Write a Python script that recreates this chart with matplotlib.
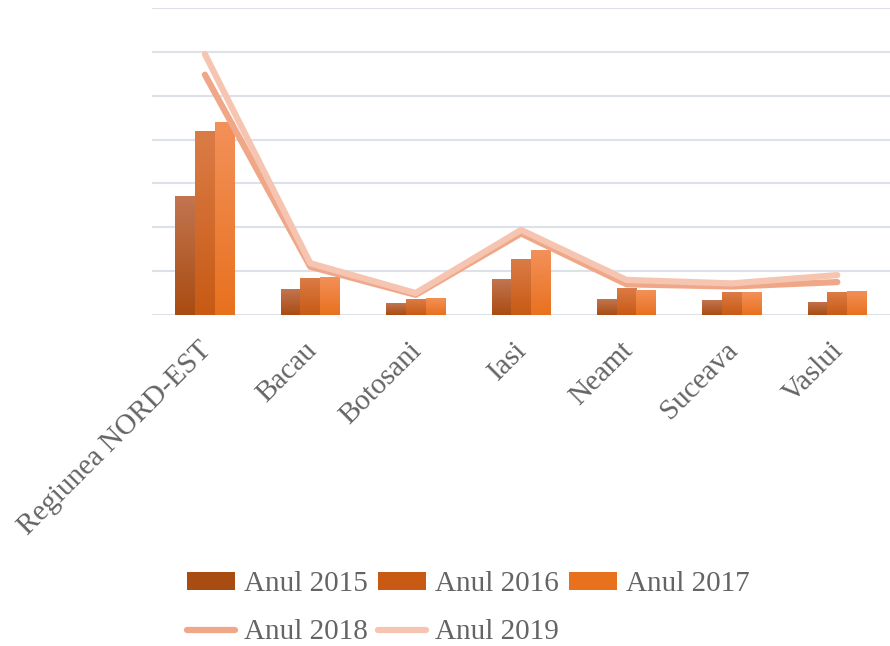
import matplotlib.pyplot as plt
import matplotlib.transforms as mtransforms
import numpy as np
from matplotlib.colors import LinearSegmentedColormap
from matplotlib.lines import Line2D
from matplotlib.patches import Patch

plt.rcParams['font.family'] = ['Liberation Serif', 'DejaVu Serif']

judete = ["Regiunea NORD-EST", "Bacau", "Botosani", "Iasi", "Neamt", "Suceava", "Vaslui"]
anul_2015 = [2.72, 0.59, 0.27, 0.82, 0.36, 0.34, 0.30]
anul_2016 = [4.20, 0.85, 0.36, 1.28, 0.62, 0.52, 0.52]
anul_2017 = [4.41, 0.87, 0.39, 1.48, 0.57, 0.52, 0.55]
anul_2018 = [5.48, 1.10, 0.46, 1.86, 0.70, 0.65, 0.75]
anul_2019 = [5.95, 1.18, 0.50, 1.94, 0.80, 0.72, 0.91]

# (top colour, bottom colour) for the gradient bars
bar_cols = [("#C27550", "#A94C12"), ("#DB7C47", "#C85A14"), ("#F3915A", "#E8711E")]
line_cols = ["#F0A788", "#F5C5B2"]
text_col = "#646464"

fig = plt.figure(figsize=(8.9, 6.46), dpi=100)
ax = fig.add_axes([0.171, 0.5124, 0.829, 0.4752])

x = np.arange(len(judete))
w = 0.187
grad = np.linspace(1, 0, 100).reshape(-1, 1)
for i, (vals, (ctop, cbot)) in enumerate(zip([anul_2015, anul_2016, anul_2017], bar_cols)):
    bars = ax.bar(x + (i - 1) * w, vals, w, color=cbot, zorder=2)
    cmap = LinearSegmentedColormap.from_list("g%d" % i, [cbot, ctop])
    for b in bars:
        bx, by = b.get_x(), b.get_y()
        im = ax.imshow(grad, cmap=cmap, aspect="auto", zorder=2.1,
                       extent=[bx, bx + b.get_width(), by, by + b.get_height()])
        im.set_clip_path(b)

ax.plot(x, anul_2018, color=line_cols[0], lw=4.5, solid_capstyle="round",
        solid_joinstyle="round", zorder=3)
ax.plot(x, anul_2019, color=line_cols[1], lw=4.5, solid_capstyle="round",
        solid_joinstyle="round", zorder=4)

ax.set_xlim(-0.5, len(judete) - 0.5)
ax.set_ylim(0, 7)
ax.set_yticks(np.arange(0, 8))
ax.set_yticklabels([])
ax.tick_params(axis="y", length=0)
ax.grid(axis="y", color="#DDE1E8", lw=1.5, zorder=0)
for s in ax.spines.values():
    s.set_visible(False)
ax.set_xticks(x)
ax.set_xticklabels(judete, rotation=45, ha="right", rotation_mode="anchor",
                   fontsize=21, color=text_col)
ax.tick_params(axis="x", length=0, pad=16)
shift = mtransforms.ScaledTranslation(-7 / 100, 0, fig.dpi_scale_trans)
for lbl in ax.get_xticklabels():
    lbl.set_transform(lbl.get_transform() + shift)

handles = [
    Patch(facecolor=bar_cols[0][1]), Line2D([], [], color=line_cols[0], lw=4.5, solid_capstyle="round"),
    Patch(facecolor=bar_cols[1][1]), Line2D([], [], color=line_cols[1], lw=4.5, solid_capstyle="round"),
    Patch(facecolor=bar_cols[2][1]),
]
labels = ["Anul 2015", "Anul 2018", "Anul 2016", "Anul 2019", "Anul 2017"]
leg = fig.legend(handles, labels, ncol=3, loc="upper center", bbox_to_anchor=(0.526, 0.147),
                 frameon=False, fontsize=21, handlelength=1.65, handleheight=0.55,
                 handletextpad=0.3, columnspacing=0.35, labelspacing=0.75,
                 borderpad=0.2)
for t in leg.get_texts():
    t.set_color(text_col)

fig.savefig("out.png", dpi=100)
